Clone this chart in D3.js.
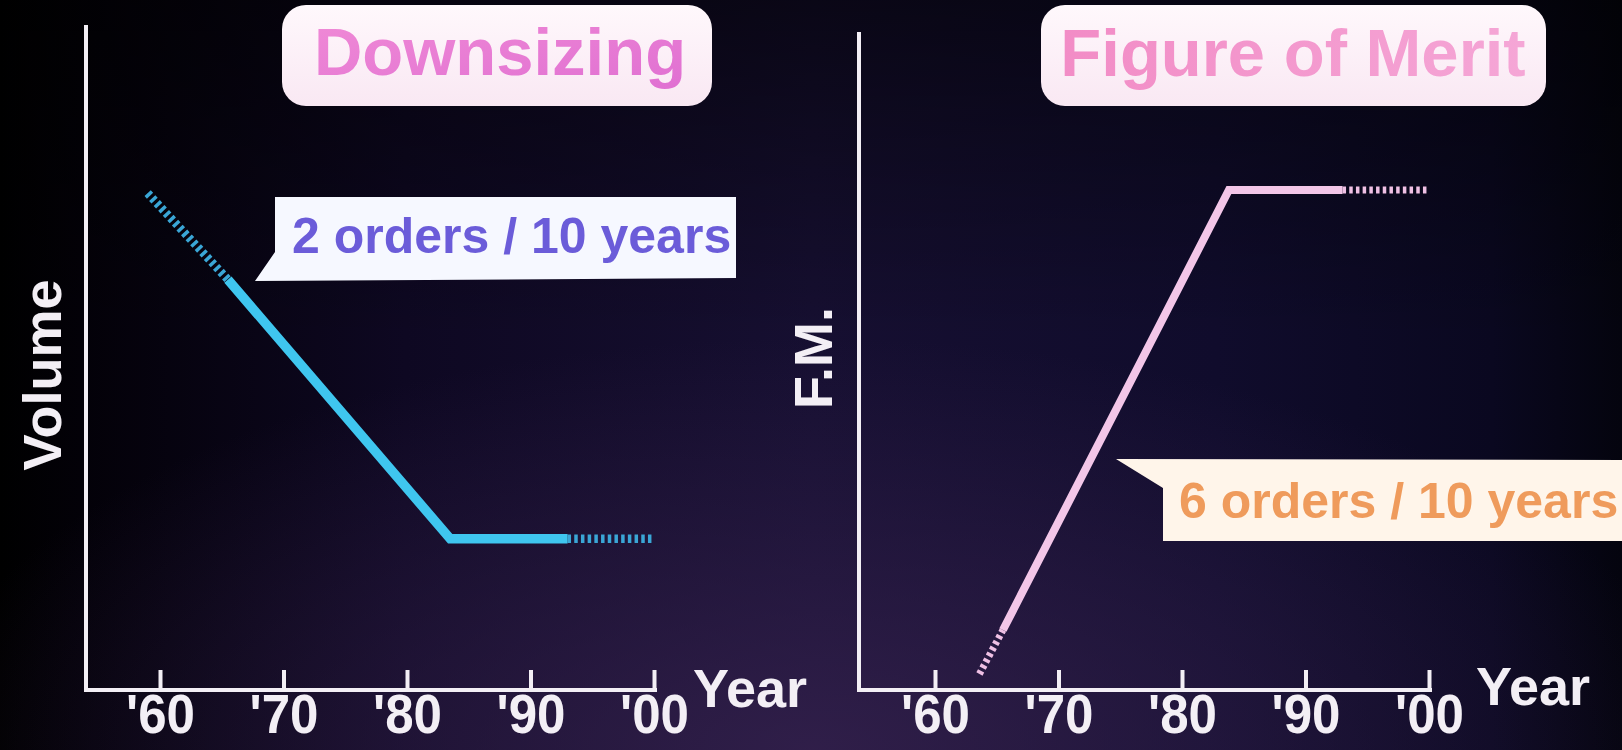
<!DOCTYPE html>
<html>
<head>
<meta charset="utf-8">
<script src="https://cdn.jsdelivr.net/npm/d3@7"></script>
<style>
  html, body { margin: 0; padding: 0; background: #000; overflow: hidden; }
  text { font-family: "Liberation Sans", Arial, Helvetica, sans-serif; font-weight: bold; }
</style>
</head>
<body>
<svg id="chart" width="1622" height="750"></svg>
<script>
// ---- data ---------------------------------------------------------------
const yearTicks = [1960, 1970, 1980, 1990, 2000];
const tickLabels = ["'60", "'70", "'80", "'90", "'00"];

// Volume, in orders of magnitude (log10, relative)
const downsizingYears  = [1959, 1965.5, 1983.5, 1993, 2000];
const downsizingOrders = [6.9, 5.7, 2.1, 2.1, 2.1];
const downsizingRate   = "2 orders / 10 years";

// Figure of merit, in orders of magnitude (log10, relative)
const meritYears  = [1963.6, 1965.5, 1983.8, 1993, 2000];
const meritOrders = [0.4, 1.5, 12.5, 12.5, 12.5];
const meritRate   = "6 orders / 10 years";

// years backed by data; outside this span the trend is extrapolated
const measuredSpan = [1965.5, 1993];

const panelTitles = ["Downsizing", "Figure of Merit"];
const yLabels = ["Volume", "F.M."];
const xLabel = "Year";

// ---- layout -------------------------------------------------------------
const svg = d3.select("#chart");
const W = 1622, H = 750;

const defs = svg.append("defs");

// background: near-black on the left, violet haze toward the lower middle
const bg = defs.append("linearGradient").attr("id", "bgH").attr("x1", 0).attr("x2", 1).attr("y1", 0).attr("y2", 0);
[["0%", "#000000"], ["5%", "#030108"], ["25%", "#0e0822"], ["50%", "#160f31"],
 ["75%", "#100c2c"], ["92%", "#0a0820"], ["100%", "#04040e"]]
  .forEach(([o, c]) => bg.append("stop").attr("offset", o).attr("stop-color", c));

const glow = defs.append("radialGradient").attr("id", "glow")
  .attr("cx", 0.5).attr("cy", 1.0).attr("r", 0.55).attr("fx", 0.5).attr("fy", 1.0);
glow.append("stop").attr("offset", "0%").attr("stop-color", "#36224f").attr("stop-opacity", 0.8);
glow.append("stop").attr("offset", "100%").attr("stop-color", "#36224f").attr("stop-opacity", 0);

const topShade = defs.append("linearGradient").attr("id", "topShade").attr("x1", 0).attr("x2", 0).attr("y1", 0).attr("y2", 1);
topShade.append("stop").attr("offset", "0%").attr("stop-color", "#000").attr("stop-opacity", 0.55);
topShade.append("stop").attr("offset", "45%").attr("stop-color", "#000").attr("stop-opacity", 0);

svg.append("rect").attr("width", W).attr("height", H).attr("fill", "url(#bgH)");
svg.append("rect").attr("width", W).attr("height", H).attr("fill", "url(#glow)");
svg.append("rect").attr("width", W).attr("height", H).attr("fill", "url(#topShade)");

// title box fill and title lettering
const boxFill = defs.append("linearGradient").attr("id", "boxFill").attr("x1", 0).attr("x2", 0).attr("y1", 0).attr("y2", 1);
boxFill.append("stop").attr("offset", "0%").attr("stop-color", "#fff8fc");
boxFill.append("stop").attr("offset", "100%").attr("stop-color", "#f9e8f3");

const t1 = defs.append("linearGradient").attr("id", "titleInk1").attr("x1", 0).attr("x2", 1).attr("y1", 0).attr("y2", 1);
t1.append("stop").attr("offset", "0%").attr("stop-color", "#f08ad6");
t1.append("stop").attr("offset", "100%").attr("stop-color", "#e070d2");

const t2 = defs.append("linearGradient").attr("id", "titleInk2").attr("x1", 0).attr("x2", 1).attr("y1", 0).attr("y2", 0);
t2.append("stop").attr("offset", "0%").attr("stop-color", "#f28cc6");
t2.append("stop").attr("offset", "100%").attr("stop-color", "#f5a6d6");

const panels = [
  {
    title: panelTitles[0], titleInk: "url(#titleInk1)",
    titleBox: [282, 5, 430, 101], titleX: 500, titleY: 75,
    yLabel: yLabels[0], yLabelAt: [61, 375],
    years: downsizingYears, orders: downsizingOrders,
    axisX: 86, axisTop: 25, xRange: [160, 654], yDomain: [0, 9.25], yRange: [690, 24],
    lineColor: "#3fc6ef", hatchColor: "#3aa6d6", lineWidth: 9.5,
    yearLabelX: 693, yearLabelY: 707,
    rate: downsizingRate, rateInk: "#6b5cd9", rateFill: "#f6f8ff",
    callout: [[275, 197], [736, 197], [736, 278], [255, 281], [275, 252]],
    rateX: 292, rateY: 253
  },
  {
    title: panelTitles[1], titleInk: "url(#titleInk2)",
    titleBox: [1041, 5, 505, 101], titleX: 1293, titleY: 76,
    yLabel: yLabels[1], yLabelAt: [832, 358],
    years: meritYears, orders: meritOrders,
    axisX: 859, axisTop: 32, xRange: [935, 1429], yDomain: [0, 16.5], yRange: [690, 30],
    lineColor: "#f3c6e8", hatchColor: "#efc0e4", lineWidth: 8,
    yearLabelX: 1476, yearLabelY: 705,
    rate: meritRate, rateInk: "#ef9b5c", rateFill: "#fff5ea",
    callout: [[1116, 459], [1630, 460], [1630, 541], [1163, 541], [1163, 488]],
    rateX: 1179, rateY: 518
  }
];

const axisColor = "#f3eff5";
const baseY = 690;

panels.forEach(p => {
  const g = svg.append("g");
  const x = d3.scaleLinear().domain([yearTicks[0], yearTicks[yearTicks.length - 1]]).range(p.xRange);
  const y = d3.scaleLinear().domain(p.yDomain).range(p.yRange);

  // title box
  const [bx, by, bw, bh] = p.titleBox;
  g.append("rect").attr("x", bx).attr("y", by).attr("width", bw).attr("height", bh)
    .attr("rx", 24).attr("ry", 24).attr("fill", "url(#boxFill)");
  g.append("text").attr("x", p.titleX).attr("y", p.titleY)
    .attr("text-anchor", "middle").attr("font-size", 67)
    .attr("fill", p.titleInk).text(p.title);

  // x axis: ticks point up into the plot
  const xAxis = d3.axisBottom(x)
    .tickValues(yearTicks)
    .tickFormat((d, i) => tickLabels[i])
    .tickSizeInner(-20).tickSizeOuter(0).tickPadding(0);
  const ax = g.append("g").attr("transform", `translate(0,${baseY})`).call(xAxis);
  ax.select(".domain").remove();
  ax.selectAll(".tick line").attr("stroke", axisColor).attr("stroke-width", 4);
  ax.selectAll(".tick text")
    .attr("fill", axisColor).attr("font-size", 55)
    .attr("y", 43).attr("dy", 0)
    .attr("textLength", 69).attr("lengthAdjust", "spacingAndGlyphs")
    .style("font-family", "'Liberation Sans', Arial, sans-serif").style("font-weight", "bold");

  // axis frame
  g.append("path")
    .attr("d", `M${p.axisX},${p.axisTop} V${baseY} H${x(2000) + 3}`)
    .attr("fill", "none").attr("stroke", axisColor).attr("stroke-width", 4)
    .attr("stroke-linejoin", "miter");

  g.append("text").attr("x", p.yearLabelX).attr("y", p.yearLabelY)
    .attr("font-size", 54).attr("fill", axisColor).text(xLabel);

  g.append("text")
    .attr("transform", `translate(${p.yLabelAt[0]},${p.yLabelAt[1]}) rotate(-90)`)
    .attr("text-anchor", "middle").attr("font-size", 54)
    .attr("fill", axisColor).text(p.yLabel);

  // trend line: solid where measured, hatched where extrapolated
  const pts = p.years.map((yr, i) => ({ year: yr, v: p.orders[i] }));
  const inSpan = d => d.year >= measuredSpan[0] && d.year <= measuredSpan[1];
  const first = pts.findIndex(inSpan);
  const last = pts.length - 1 - [...pts].reverse().findIndex(inSpan);
  const line = d3.line().x(d => x(d.year)).y(d => y(d.v));

  const lead = pts.slice(0, first + 1);
  const tail = pts.slice(last);
  const measured = pts.slice(first, last + 1);

  [lead, tail].forEach(seg => {
    if (seg.length < 2) return;
    g.append("path").attr("d", line(seg))
      .attr("fill", "none").attr("stroke", p.hatchColor)
      .attr("stroke-width", p.lineWidth - 1)
      .attr("stroke-dasharray", "3.5,3.2")
      .attr("stroke-linecap", "butt");
  });
  g.append("path").attr("d", line(measured))
    .attr("fill", "none").attr("stroke", p.lineColor)
    .attr("stroke-width", p.lineWidth)
    .attr("stroke-linejoin", "miter").attr("stroke-linecap", "butt");

  // rate callout
  g.append("path").attr("d", "M" + p.callout.map(c => c.join(",")).join("L") + "Z")
    .attr("fill", p.rateFill);
  g.append("text").attr("x", p.rateX).attr("y", p.rateY)
    .attr("font-size", 50).attr("fill", p.rateInk).text(p.rate);
});
</script>
</body>
</html>
